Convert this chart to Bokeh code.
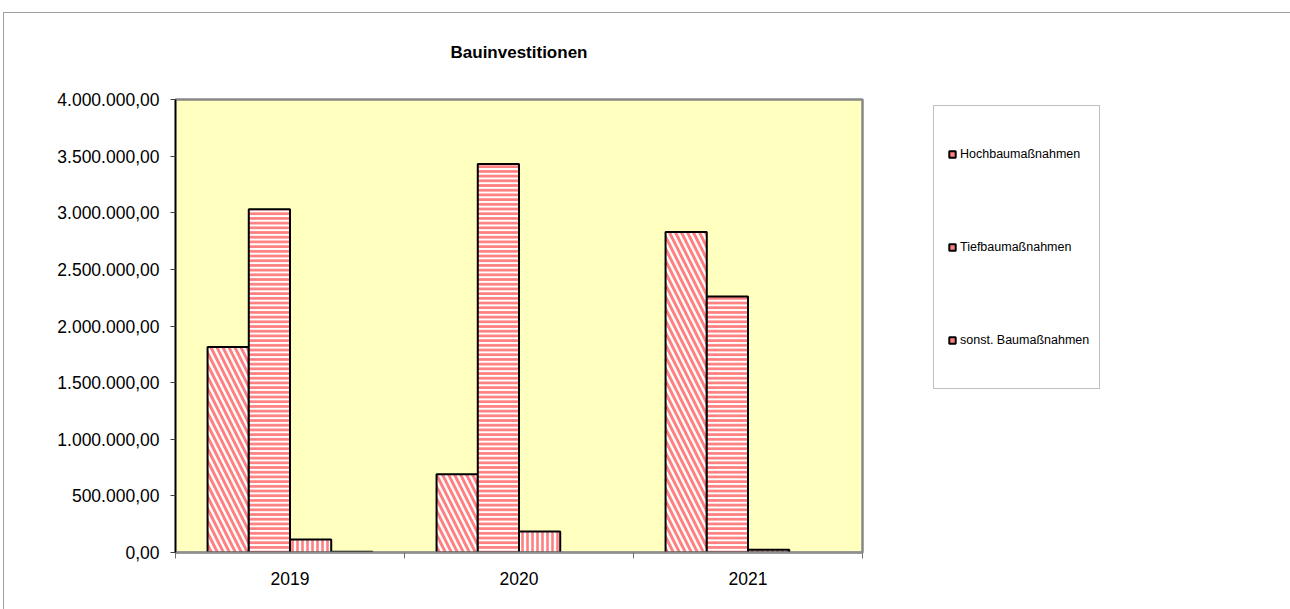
import numpy as np
from bokeh.plotting import figure
from bokeh.models import (ColumnDataSource, FixedTicker, Legend, LegendItem, Range1d, Title)
from bokeh.transform import dodge
from bokeh.embed import file_html
from bokeh.resources import INLINE

# ---- data ----
years = ["2019", "2020", "2021"]
hochbau = [1815000, 690000, 2830000]
tiefbau = [3030000, 3430000, 2260000]
sonst = [115000, 185000, 25000]
weitere = [6000, np.nan, np.nan]
series_names = ["Hochbaumaßnahmen", "Tiefbaumaßnahmen", "sonst. Baumaßnahmen"]
y_ticks = [0, 500000, 1000000, 1500000, 2000000, 2500000, 3000000, 3500000, 4000000]
y_tick_labels = ["0,00", "500.000,00", "1.000.000,00", "1.500.000,00", "2.000.000,00",
                 "2.500.000,00", "3.000.000,00", "3.500.000,00", "4.000.000,00"]
chart_title = "Bauinvestitionen"

FONT = "Liberation Sans"
PINK = "#FF8080"

x_centers = [i + 0.5 for i in range(len(years))]
x_bounds = [float(i) for i in range(len(years) + 1)]

src = ColumnDataSource(dict(x=np.array(x_centers), hochbau=np.array(hochbau, dtype=float),
                            tiefbau=np.array(tiefbau, dtype=float),
                            sonst=np.array(sonst, dtype=float),
                            weitere=np.array(weitere, dtype=float)))

p = figure(title=None, frame_width=687, frame_height=453, output_backend="svg",
           toolbar_location=None,
           x_range=Range1d(0, len(years)), y_range=Range1d(0, 4000000),
           min_border_left=171, min_border_top=86, min_border_bottom=57,
           min_border_right=0,
           background_fill_color="#FFFFC0", border_fill_color="white",
           margin=(12, 0, 0, 3),
           styles={"border-left": "1px solid #a0a0a0", "border-top": "1px solid #a0a0a0"})

# spacer between frame and title, then the title itself
p.add_layout(Title(text=" ", text_font_size="1px", standoff=30), "above")
p.add_layout(Title(text=chart_title, align="center", text_font=FONT, text_font_size="17px",
                   text_font_style="bold", text_color="black", standoff=10), "above")

p.outline_line_color = "#888888"
p.outline_line_width = 2.5
p.xgrid.visible = False
p.ygrid.visible = False

w = 0.18
offsets = [-1.5 * w, -0.5 * w, 0.5 * w, 1.5 * w]
common = dict(width=w, source=src, fill_color="white", line_color="black",
              line_width=2, hatch_color=PINK)
r1 = p.vbar(x=dodge("x", offsets[0], range=p.x_range), top="hochbau",
            hatch_pattern="left_diagonal_line", hatch_scale=12, hatch_weight=3, **common)
r2 = p.vbar(x=dodge("x", offsets[1], range=p.x_range), top="tiefbau",
            hatch_pattern="horizontal_line", hatch_scale=4.7, hatch_weight=2.8, **common)
r3 = p.vbar(x=dodge("x", offsets[2], range=p.x_range), top="sonst",
            hatch_pattern="vertical_line", hatch_scale=5, hatch_weight=2.6, **common)
r4 = p.vbar(x=dodge("x", offsets[3], range=p.x_range), top="weitere",
            hatch_pattern="cross", hatch_scale=5, hatch_weight=1.5, **common)

# y axis
ya = p.yaxis[0]
ya.ticker = FixedTicker(ticks=y_ticks)
ya.major_label_overrides = {t: l for t, l in zip(y_ticks, y_tick_labels)}
ya.axis_line_color = "black"
ya.axis_line_width = 1.5
ya.major_tick_line_color = "#404040"
ya.major_tick_out = 5
ya.major_tick_in = 0
ya.minor_tick_line_color = None
ya.major_label_standoff = 11
ya.major_label_text_font = FONT
ya.major_label_text_font_size = "17.5px"
ya.major_label_text_color = "black"

# x axis
xa = p.xaxis[0]
xa.ticker = FixedTicker(ticks=x_centers, minor_ticks=x_bounds)
xa.major_label_overrides = {c: y for c, y in zip(x_centers, years)}
xa.axis_line_color = "#909090"
xa.axis_line_width = 2
xa.major_tick_line_color = None
xa.minor_tick_line_color = "#707070"
xa.minor_tick_out = 6
xa.minor_tick_in = 0
xa.major_label_standoff = 13
xa.major_label_text_font = FONT
xa.major_label_text_font_size = "17.5px"
xa.major_label_text_color = "black"

# legend swatches: hidden square-marker renderers on the same data
swatches = []
for field, off in zip(["hochbau", "tiefbau", "sonst"], offsets[:3]):
    s = p.scatter(x=dodge("x", off, range=p.x_range), y=field, source=src,
                  marker="square", size=8, fill_color=PINK,
                  line_color="black", line_width=2)
    s.visible = False
    swatches.append(s)

leg = Legend(items=[LegendItem(label=n, renderers=[r]) for n, r in zip(series_names, swatches)],
             location=(71, 163), padding=10, margin=0, spacing=17,
             glyph_width=16, glyph_height=76, label_width=126, label_height=0,
             label_standoff=0, label_text_font=FONT, label_text_font_size="12.5px",
             label_text_color="black", inactive_fill_alpha=0,
             click_policy="none",
             border_line_color="#808080", border_line_width=1,
             background_fill_color="white", background_fill_alpha=1)
p.add_layout(leg, "right")

open("out.html", "w").write(file_html(p, INLINE))
